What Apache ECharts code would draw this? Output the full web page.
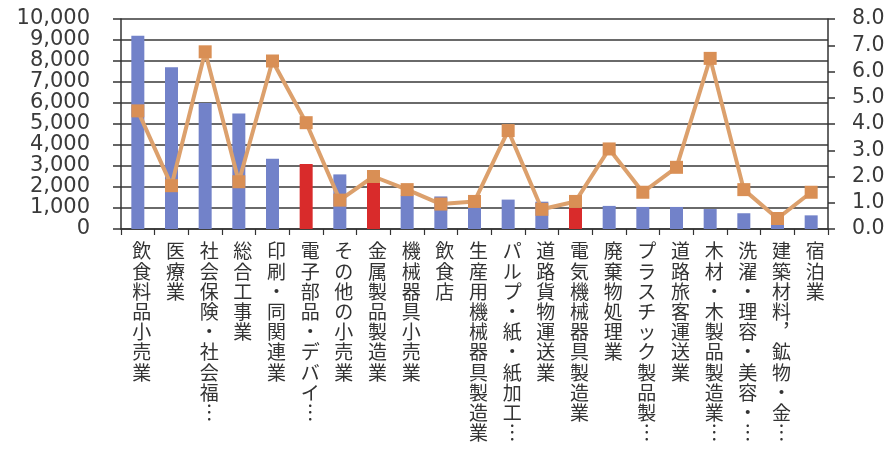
<!DOCTYPE html>
<html>
<head>
<meta charset="utf-8">
<script src="https://cdn.jsdelivr.net/npm/echarts@6/dist/echarts.min.js"></script>
<style>
html,body{margin:0;padding:0;background:#ffffff;}
#chart{width:894px;height:452px;}
</style>
</head>
<body>
<div id="chart"></div>
<script>
const categories = [
  '飲食料品小売業','医療業','社会保険・社会福…','総合工事業','印刷・同関連業',
  '電子部品・デバイ…','その他の小売業','金属製品製造業','機械器具小売業','飲食店',
  '生産用機械器具製造業','パルプ・紙・紙加工…','道路貨物運送業','電気機械器具製造業','廃棄物処理業',
  'プラスチック製品製…','道路旅客運送業','木材・木製品製造業…','洗濯・理容・美容・…','建築材料，鉱物・金…',
  '宿泊業'
];
const barValues = [9200, 7700, 6000, 5500, 3350, 3100, 2600, 2550, 1600, 1550,
                   1450, 1400, 1300, 1000, 1100, 1050, 1050, 950, 750, 500, 650];
const lineValues = [4.5, 1.65, 6.75, 1.8, 6.4, 4.05, 1.1, 2.0, 1.5, 0.95,
                    1.05, 3.75, 0.75, 1.05, 3.05, 1.4, 2.35, 6.5, 1.5, 0.4, 1.4];
const highlighted = ['電子部品・デバイ…', '金属製品製造業', '電気機械器具製造業'];
const leftTicks = { min: 0, max: 10000, interval: 1000 };
const rightTicks = { min: 0, max: 8, interval: 1 };

const BLUE = '#7282c9';
const RED = '#d92b2b';

function vertical(s) {
  return Array.from(s.replace(/…/g, '︙').replace(/，/g, '︐')).join('\n');
}

const chart = echarts.init(document.getElementById('chart'), null, { renderer: 'canvas' });
chart.setOption({
  animation: false,
  backgroundColor: '#ffffff',
  grid: { left: 121, right: 66, top: 19, bottom: 223, containLabel: false },
  xAxis: {
    type: 'category',
    data: categories,
    axisLine: { show: true, lineStyle: { color: '#333', width: 1.5 } },
    axisTick: { show: true, length: 6, alignWithLabel: false, lineStyle: { color: '#333', width: 1.2 } },
    axisLabel: {
      interval: 0,
      margin: 12,
      formatter: v => vertical(v),
      fontFamily: '"Noto Sans CJK JP"',
      fontSize: 19,
      lineHeight: 20.2,
      color: '#333',
      align: 'center',
      verticalAlign: 'top',
      padding: [0, 0, 0, 8]
    }
  },
  yAxis: [
    {
      type: 'value',
      min: leftTicks.min, max: leftTicks.max, interval: leftTicks.interval,
      axisLine: { show: true, lineStyle: { color: '#333', width: 1.5 } },
      axisTick: { show: true, length: 8, lineStyle: { color: '#333', width: 1.5 } },
      splitLine: { show: true, lineStyle: { color: '#383838', width: 1.6 } },
      axisLabel: {
        margin: 31,
        formatter: v => v.toLocaleString('en-US'),
        fontFamily: '"DejaVu Sans"',
        fontSize: 21,
        color: '#3a3a3a'
      }
    },
    {
      type: 'value',
      min: rightTicks.min, max: rightTicks.max, interval: rightTicks.interval,
      position: 'right',
      axisLine: { show: true, lineStyle: { color: '#333', width: 1.5 } },
      axisTick: { show: true, length: 7, lineStyle: { color: '#333', width: 1.5 } },
      splitLine: { show: false },
      axisLabel: {
        margin: 24,
        formatter: v => v.toFixed(1),
        fontFamily: '"DejaVu Sans"',
        fontSize: 20.5,
        color: '#3a3a3a'
      }
    }
  ],
  series: [
    {
      type: 'bar',
      yAxisIndex: 0,
      barWidth: 13,
      data: barValues.map((v, i) => ({
        value: v,
        itemStyle: { color: highlighted.includes(categories[i]) ? RED : BLUE }
      }))
    },
    {
      type: 'line',
      yAxisIndex: 1,
      data: lineValues,
      symbol: 'rect',
      symbolSize: 13,
      lineStyle: { color: '#dca06c', width: 4 },
      itemStyle: { color: '#d98f55' },
      z: 5
    }
  ]
});
</script>
</body>
</html>
